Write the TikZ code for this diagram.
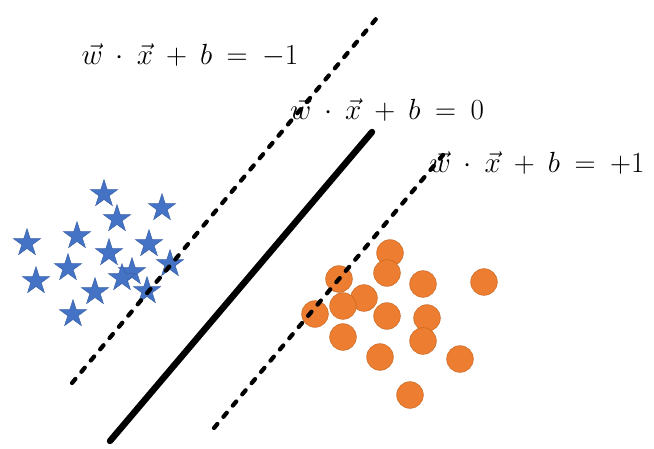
\documentclass[tikz,border=0pt]{standalone}
\usepackage{amsmath,amssymb}
\usetikzlibrary{shapes.geometric}

\definecolor{starblue}{HTML}{4472C4}
\definecolor{dotorange}{HTML}{ED7D31}
\definecolor{dotedge}{HTML}{C5651E}
\newcommand{\eqnspacing}{\medmuskip=8mu\relax\thickmuskip=9mu\relax}

\begin{document}
\begin{tikzpicture}[
  x=0.03cm, y=-0.03cm,
  starpt/.style={star, star points=5, star point ratio=2.6, fill=starblue, draw=starblue!85!black, thin, minimum size=0.86cm, inner sep=0pt},
  dotpt/.style={circle, fill=dotorange, draw=dotedge, thin, minimum size=0.8cm, inner sep=0pt},
  marginline/.style={line width=3.6pt, dash pattern=on 4.5pt off 8pt, line cap=round},
  boundary/.style={line width=5.5pt, line cap=round},
  eqn/.style={font=\fontsize{25}{29}\selectfont\eqnspacing, inner sep=0pt}
]
\useasboundingbox[fill=white] (0,0) rectangle (654,448);

% Class -1: stars
\node[starpt] (s1) at (104,194) {};
\node[starpt] (s2) at (117,219) {};
\node[starpt] (s3) at (162,208) {};
\node[starpt] (s4) at (27,243) {};
\node[starpt] (s5) at (77,236) {};
\node[starpt] (s6) at (109,253) {};
\node[starpt] (s7) at (149,244) {};
\node[starpt] (s8) at (68,268) {};
\node[starpt] (s9) at (36,281) {};
\node[starpt] (s10) at (132,272) {};
\node[starpt] (s11) at (122,278) {};
\node[starpt] (s12) at (170,264) {};
\node[starpt] (s13) at (95,292) {};
\node[starpt] (s14) at (147,291) {};
\node[starpt] (s15) at (73,314) {};

% Class +1: dots
\node[dotpt] (c1) at (390,253) {};
\node[dotpt] (c2) at (387,273) {};
\node[dotpt] (c3) at (339,279) {};
\node[dotpt] (c4) at (423,284) {};
\node[dotpt] (c5) at (484,282) {};
\node[dotpt] (c6) at (364,298) {};
\node[dotpt] (c7) at (343,306) {};
\node[dotpt] (c8) at (315,314) {};
\node[dotpt] (c9) at (387,316) {};
\node[dotpt] (c10) at (427,318) {};
\node[dotpt] (c11) at (343,337) {};
\node[dotpt] (c12) at (423,341) {};
\node[dotpt] (c13) at (380,357) {};
\node[dotpt] (c14) at (460,359) {};
\node[dotpt] (c15) at (410,395) {};

% Hyperplane and margins
\coordinate (lowA) at (72,383);
\coordinate (lowB) at (381,13);
\coordinate (midA) at (110,441);
\coordinate (midB) at (372,132);
\coordinate (uppA) at (214,428);
\coordinate (uppB) at (443,155);
\draw[marginline] (lowA) -- (lowB);
\draw[boundary] (midA) -- (midB);
\draw[marginline] (uppA) -- (uppB);

% Labels
\node[eqn] (lowlbl) at (190,55) {$\vec{w}\cdot\vec{x}+b=-1$};
\node[eqn] (midlbl) at (387,110) {$\vec{w}\cdot\vec{x}+b=0$};
\node[eqn] (upplbl) at (537,163) {$\vec{w}\cdot\vec{x}+b=+1$};
\end{tikzpicture}
\end{document}
